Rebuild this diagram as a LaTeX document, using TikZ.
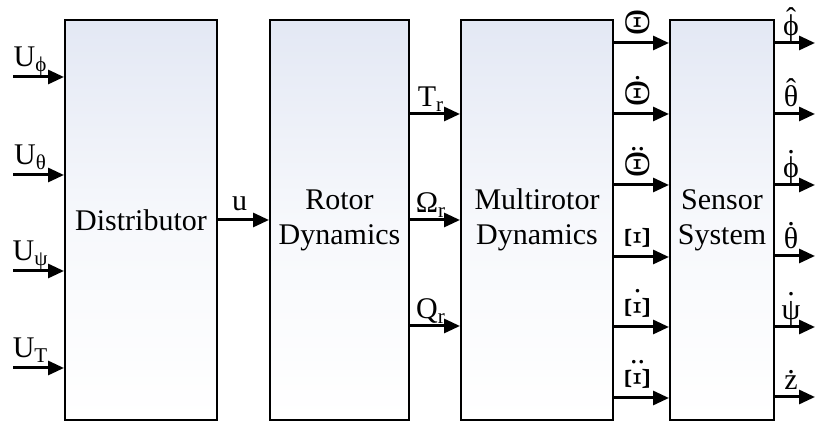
\documentclass[tikz,border=0pt]{standalone}
\usepackage{fontspec}
\setmainfont{Liberation Serif}
\usepackage{graphicx}
\usetikzlibrary{arrows.meta, positioning}
\definecolor{boxtop}{HTML}{E3E8F4}
\tikzset{block/.style = {draw, line width=1pt, minimum height=200pt, inner sep=0pt,
    top color=boxtop, bottom color=white, middle color=boxtop!30!white,
    align=center, font=\fontsize{15}{17.5}\selectfont}}
\tikzset{sig/.style = {line width=1.5pt, -{Triangle[length=8pt,width=7pt]}}}
\tikzset{lbl/.style = {anchor=base, midway, yshift=3.5pt, xshift=-2pt, inner sep=0pt,
    font=\fontsize{15}{17}\selectfont}}
% marks put over a letter
\newcommand\markover[3]{\ooalign{#2\cr\hidewidth\raisebox{#3}{#1}\hidewidth\cr}}
\newcommand\dotof[2][0.78em]{\markover{.}{#2}{#1}}
\newcommand\ddotof[2][0.78em]{\markover{..}{#2}{#1}}
\newcommand\hatof[1]{\markover{\char"02C6}{#1}{0.24em}}
\newcommand\turned[1]{\rotatebox{90}{\scalebox{1.2}{#1}}}

\begin{document}
\begin{tikzpicture}[x=0.5pt, y=-0.5pt]
            \useasboundingbox (0,0) rectangle (815,421);

            \node[block, minimum width=76pt] at (141,220) (dist) {Distributor};
            \node[block, minimum width=69.5pt] at (339.5,220) (rotor) {Rotor\\Dynamics};
            \node[block, minimum width=76pt] at (537,220) (multi) {Multirotor\\Dynamics};
            \node[block, minimum width=52pt] at (722,220) (sensor) {Sensor\\System};

            % input signals
            \coordinate (in1) at (13,77);
            \coordinate (in2) at (13,175);
            \coordinate (in3) at (13,271);
            \coordinate (in4) at (13,368);
            \draw[sig] (in1) -- (dist.west |- in1) node[lbl, xshift=-2pt, yshift=1.5pt] {U\textsubscript{ϕ}};
            \draw[sig] (in2) -- (dist.west |- in2) node[lbl, xshift=-2pt, yshift=1.5pt] {U\textsubscript{θ}};
            \draw[sig] (in3) -- (dist.west |- in3) node[lbl, xshift=-2pt, yshift=1.5pt] {U\textsubscript{ψ}};
            \draw[sig] (in4) -- (dist.west |- in4) node[lbl, xshift=-2pt, yshift=1.5pt] {U\textsubscript{T}};

            \draw[sig] (dist.east) -- (rotor.west) node[lbl, yshift=1pt] {u};

            % rotor outputs
            \coordinate (r1) at (0,114);
            \coordinate (r2) at (0,220);
            \coordinate (r3) at (0,326);
            \draw[sig] (rotor.east |- r1) -- (multi.west |- r1) node[lbl] {T\textsubscript{r}};
            \draw[sig] (rotor.east |- r2) -- (multi.west |- r2) node[lbl] {Ω\textsubscript{r}};
            \draw[sig] (rotor.east |- r3) -- (multi.west |- r3) node[lbl] {Q\textsubscript{r}};

            % states
            \coordinate (m1) at (0,43);
            \coordinate (m2) at (0,114);
            \coordinate (m3) at (0,185);
            \coordinate (m4) at (0,257);
            \coordinate (m5) at (0,327);
            \coordinate (m6) at (0,398);
            \draw[sig] (multi.east |- m1) -- (sensor.west |- m1) node[lbl] {\turned{Θ}};
            \draw[sig] (multi.east |- m2) -- (sensor.west |- m2) node[lbl] {\dotof[0.9em]{\turned{Θ}}};
            \draw[sig] (multi.east |- m3) -- (sensor.west |- m3) node[lbl] {\ddotof[0.9em]{\turned{Θ}}};
            \draw[sig] (multi.east |- m4) -- (sensor.west |- m4) node[lbl] {\turned{Ξ}};
            \draw[sig] (multi.east |- m5) -- (sensor.west |- m5) node[lbl] {\dotof[0.9em]{\turned{Ξ}}};
            \draw[sig] (multi.east |- m6) -- (sensor.west |- m6) node[lbl] {\ddotof[0.9em]{\turned{Ξ}}};

            % measured outputs
            \coordinate (o1) at (815,43);
            \coordinate (o2) at (815,114);
            \coordinate (o3) at (815,185);
            \coordinate (o4) at (815,256);
            \coordinate (o5) at (815,327);
            \coordinate (o6) at (815,397);
            \draw[sig] (sensor.east |- o1) -- (o1) node[lbl] {\hatof{ϕ}};
            \draw[sig] (sensor.east |- o2) -- (o2) node[lbl] {\hatof{θ}};
            \draw[sig] (sensor.east |- o3) -- (o3) node[lbl] {\dotof[0.8em]{ϕ}};
            \draw[sig] (sensor.east |- o4) -- (o4) node[lbl] {\dotof{θ}};
            \draw[sig] (sensor.east |- o5) -- (o5) node[lbl] {\dotof[0.8em]{ψ}};
            \draw[sig] (sensor.east |- o6) -- (o6) node[lbl] {\dotof[0.55em]{z}};
\end{tikzpicture}
\end{document}
